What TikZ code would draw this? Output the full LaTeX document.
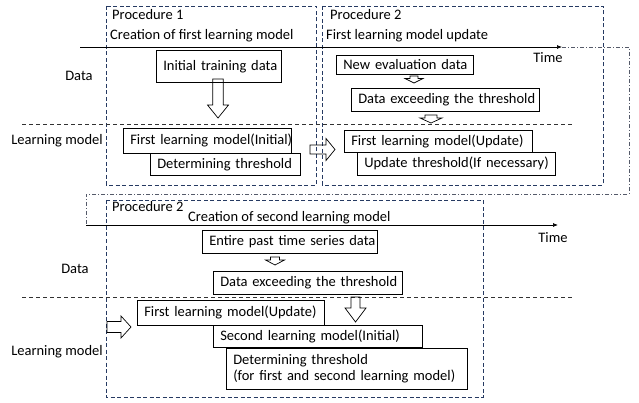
\documentclass[tikz,border=0pt]{standalone}
\usepackage{fontspec}
\setmainfont{Carlito}
\usetikzlibrary{arrows.meta}

\definecolor{procblue}{RGB}{38,58,98}
\definecolor{wrapgray}{RGB}{85,90,105}
\definecolor{sepgray}{RGB}{50,50,50}

\begin{document}
\begin{tikzpicture}[x=1pt,y=-1pt,
    every node/.style={font=\fontsize{14.5}{16.5}\selectfont},
    proc/.style={draw=procblue,line width=0.9pt,dash pattern=on 4pt off 2.5pt},
    sep/.style={draw=sepgray,line width=0.7pt,dash pattern=on 4pt off 3pt},
    wrap/.style={draw=wrapgray,line width=0.7pt,dash pattern=on 4pt off 2pt on 1pt off 2pt},
    timeaxis/.style={draw=black,line width=0.7pt,-{Latex[length=5pt,width=4pt]}},
    box/.style={draw,fill=white,line width=0.6pt,inner xsep=7pt,inner ysep=0pt,
        align=left,anchor=north west},
    oneline/.style={box,execute at begin node={\hbox\bgroup},execute at end node={\egroup}},
    hollow/.style={draw=black,line width=0.7pt,line join=miter},
    lbl/.style={inner sep=0pt,anchor=west}]
\useasboundingbox (0,0) rectangle (639,403);

% procedure frames
\draw[proc] (106,6) rectangle (316,185);
\draw[proc] (322,6) rectangle (603,185);
\draw[proc] (106,200) rectangle (483,397);

% data / learning model separators
\draw[sep] (22,124) -- (572,124);
\draw[sep] (22,297) -- (573,297);

% time axis, wrapping round to the second row
\coordinate (tstart) at (80,47);
\coordinate (tend) at (562,47);
\coordinate (wstart) at (86,225);
\coordinate (wend) at (558,225);
\draw[timeaxis] (tstart) -- (tend);
\draw[wrap] (tend) -- (629,47) -- (629,194) -- (86,194) -- (wstart);
\draw[timeaxis] (wstart) -- (wend);
\node (time1) at (548,58) {Time};
\node (time2) at (553,238) {Time};

% headings
\node[lbl] (proc1) at (112,15) {Procedure 1};
\node[lbl] (title1) at (110,36) {Creation of first learning model};
\node[lbl] (proc2) at (330,15) {Procedure 2};
\node[lbl] (title2) at (326,36) {First learning model update};
\node[lbl] (proc3) at (112,207) {Procedure 2};
\node[lbl] (title3) at (188,218) {Creation of second learning model};

% row labels
\node (data1) at (79,76) {Data};
\node (model1) at (57,141) {Learning model};
\node (data2) at (75,269) {Data};
\node (model2) at (57,352) {Learning model};

% procedure 1
\node[oneline,text width=111pt,minimum height=32pt] (init) at (156,50) {Initial training data};
\node[oneline,text width=154pt,minimum height=25pt] (m1init) at (123,128) {First learning model(Initial)};
\node[oneline,text width=136pt,minimum height=22pt] (thr1) at (150,153) {Determining threshold};

% procedure 2, update
\node[oneline,text width=123pt,minimum height=19pt] (neweval) at (336,55) {New evaluation data};
\node[oneline,text width=174pt,minimum height=23pt] (exceed1) at (351,88) {Data exceeding the threshold};
\node[oneline,text width=174pt,minimum height=22pt] (m1upd) at (344,130) {First learning model(Update)};
\node[oneline,text width=184pt,minimum height=23pt] (updthr) at (357,152) {Update threshold(If necessary)};

% procedure 2, second model
\node[oneline,text width=161pt,minimum height=23pt] (entire) at (202,230) {Entire past time series data};
\node[oneline,text width=175pt,minimum height=23pt] (exceed2) at (213,271) {Data exceeding the threshold};
\node[oneline,text width=173pt,minimum height=25pt] (m1upd2) at (137,300) {First learning model(Update)};
\node[oneline,text width=195pt,minimum height=22pt] (m2init) at (213,325) {Second learning model(Initial)};
\node[box,text width=227pt,minimum height=41pt] (thr2) at (226,348)
    {Determining threshold\\(for first and second learning model)};

% hollow block arrows pointing down
\foreach \cx/\ya/\yb/\yc/\sw/\hw in {218/79/105/118/5.25/10.5, 414/76/78.5/83/4/9,
    431/115/118/123/6/11, 275/257/260/265/4.5/9.5, 355.5/297/308/322/4.5/10.5}
  \draw[hollow] (\cx-\sw,\ya) -- (\cx+\sw,\ya) -- (\cx+\sw,\yb) -- (\cx+\hw,\yb)
    -- (\cx,\yc) -- (\cx-\hw,\yb) -- (\cx-\sw,\yb) -- cycle;

% hollow block arrows pointing right
\foreach \xa/\xb/\xc/\cy/\sw/\hw in {310/326/335/149.5/4.5/11, 107/121/131/327/5.5/11}
  \draw[hollow] (\xa,\cy-\sw) -- (\xb,\cy-\sw) -- (\xb,\cy-\hw) -- (\xc,\cy)
    -- (\xb,\cy+\hw) -- (\xb,\cy+\sw) -- (\xa,\cy+\sw) -- cycle;

\end{tikzpicture}
\end{document}
